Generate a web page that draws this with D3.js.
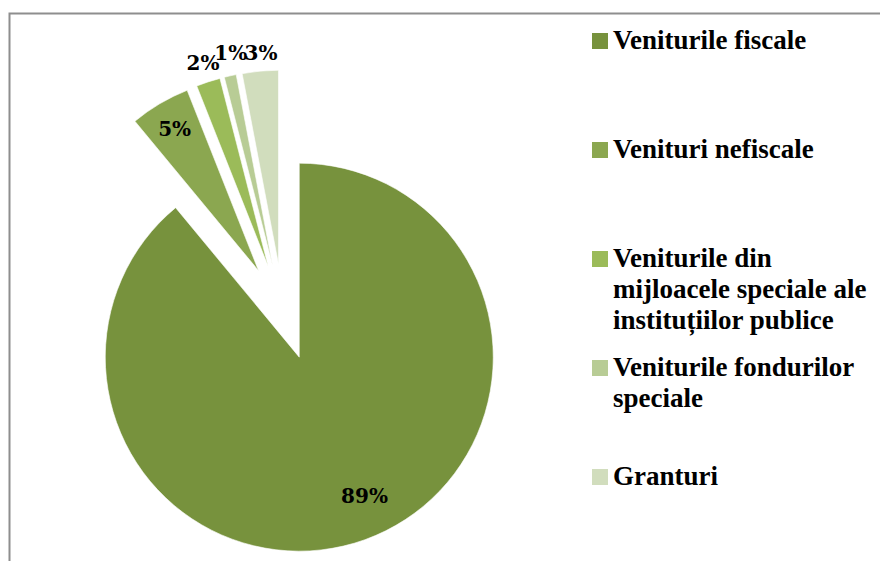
<!DOCTYPE html>
<html>
<head>
<meta charset="utf-8">
<script src="https://cdn.jsdelivr.net/npm/d3@7"></script>
<style>
  body { margin: 0; background: #fff; }
  #wrapper { width: 880px; height: 561px; overflow: hidden; }
</style>
</head>
<body>
<div id="wrapper"></div>
<script>
(function () {
  "use strict";

  // DATA
  const categories = [
    "Veniturile fiscale",
    "Venituri nefiscale",
    "Veniturile din mijloacele speciale ale instituțiilor publice",
    "Veniturile fondurilor speciale",
    "Granturi"
  ]
  const shares = [89, 5, 2, 1, 3]
  const legendLines = [
    ["Veniturile fiscale"],
    ["Venituri nefiscale"],
    ["Veniturile din", "mijloacele speciale ale", "instituțiilor publice"],
    ["Veniturile fondurilor", "speciale"],
    ["Granturi"]
  ]
  const colors = ["#77923d", "#8ba750", "#9bbb59", "#b8cc95", "#d1ddbd"]

  // label placement: radius factor and small angle nudge (degrees) for each slice
  const labelRadius = [0.79, 0.85, 1.10, 1.117, 1.095]
  const labelNudge = [-5.4, 0, 0.2, 1.5, 0.7]

  // DIMENSIONS
  const dimensions = {
    width: 880,
    height: 561,
    cx: 283,
    cy: 312,
    radius: 194,
    explode: 48
  }

  const svg = d3.select("#wrapper").append("svg")
    .attr("width", dimensions.width)
    .attr("height", dimensions.height)

  // frame
  svg.append("rect")
    .attr("x", 9.5)
    .attr("y", 13.5)
    .attr("width", 1000)
    .attr("height", 700)
    .attr("fill", "none")
    .attr("stroke", "#8e8e8e")
    .attr("stroke-width", 2)

  const colorScale = d3.scaleOrdinal().domain(categories).range(colors)

  const pie = d3.pie().sort(null).value(d => d.value)
  const arcs = pie(categories.map((c, i) => ({ name: c, value: shares[i], i })))

  const arc = d3.arc().innerRadius(0).outerRadius(dimensions.radius)

  const polar = (a, r) => [r * Math.sin(a), -r * Math.cos(a)]

  const bounds = svg.append("g")
    .attr("transform", `translate(${dimensions.cx},${dimensions.cy})`)

  const slices = bounds.selectAll("g.slice")
    .data(arcs)
    .enter()
    .append("g")
    .attr("class", "slice")
    .attr("transform", d => {
      const mid = (d.startAngle + d.endAngle) / 2
      const [x, y] = polar(mid, dimensions.explode)
      return `translate(${x},${y})`
    })

  slices.append("path")
    .attr("d", arc)
    .attr("fill", d => colorScale(d.data.name))
    .attr("stroke", "#fff")
    .attr("stroke-width", 0.6)

  slices.append("text")
    .attr("transform", d => {
      const mid = (d.startAngle + d.endAngle) / 2 + labelNudge[d.data.i] * Math.PI / 180
      const [x, y] = polar(mid, dimensions.radius * labelRadius[d.data.i])
      return `translate(${x},${y})`
    })
    .attr("text-anchor", "middle")
    .attr("dy", "0.36em")
    .style("font-family", "'DejaVu Serif', serif")
    .style("font-weight", "bold")
    .style("font-size", "20px")
    .attr("fill", "#000")
    .text(d => d3.format(".0f")(d.data.value) + "%")

  // LEGEND
  const legendY = d3.scalePoint().domain(categories).range([49, 485])

  const legend = svg.append("g").attr("transform", "translate(592,0)")

  const items = legend.selectAll("g")
    .data(categories)
    .enter()
    .append("g")
    .attr("transform", d => `translate(0,${legendY(d)})`)

  items.append("rect")
    .attr("x", 0)
    .attr("y", -16)
    .attr("width", 16)
    .attr("height", 16)
    .attr("fill", d => colorScale(d))

  items.append("text")
    .attr("x", 21)
    .style("font-family", "'Liberation Serif', serif")
    .style("font-weight", "bold")
    .style("font-size", "27px")
    .attr("fill", "#000")
    .selectAll("tspan")
    .data((d, i) => legendLines[i])
    .enter()
    .append("tspan")
    .attr("x", 21)
    .attr("y", (d, j) => j * 31)
    .text(d => d)

})();
</script>
</body>
</html>
